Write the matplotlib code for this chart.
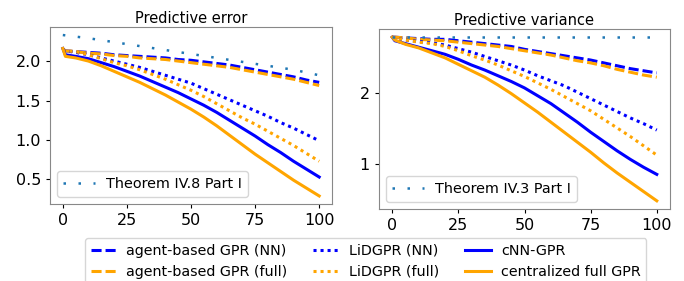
import numpy as np
import matplotlib
matplotlib.use("Agg")
import matplotlib.pyplot as plt

x = [0, 1, 5, 10, 15, 20, 25, 30, 35, 40, 45, 50, 55, 60, 65, 70, 75, 80, 85, 90, 95, 100]
x_thm = [0, 10, 20, 30, 40, 50, 60, 70, 80, 90, 100]

# predictive error
err_agent_nn = [2.15, 2.13, 2.12, 2.11, 2.10, 2.08, 2.07, 2.06, 2.05, 2.04, 2.02,
                2.01, 1.99, 1.97, 1.95, 1.92, 1.89, 1.86, 1.83, 1.80, 1.76, 1.73]
err_agent_full = [2.15, 2.13, 2.12, 2.10, 2.09, 2.07, 2.06, 2.04, 2.03, 2.02, 2.00,
                  1.98, 1.96, 1.94, 1.92, 1.89, 1.86, 1.83, 1.80, 1.77, 1.73, 1.69]
err_lid_nn = [2.15, 2.13, 2.11, 2.08, 2.04, 2.00, 1.96, 1.92, 1.87, 1.82, 1.77,
              1.72, 1.65, 1.58, 1.51, 1.44, 1.37, 1.30, 1.22, 1.15, 1.07, 0.99]
err_lid_full = [2.15, 2.13, 2.12, 2.08, 2.03, 1.98, 1.94, 1.89, 1.83, 1.77, 1.70,
                1.63, 1.55, 1.46, 1.37, 1.28, 1.20, 1.11, 1.02, 0.93, 0.83, 0.73]
err_cnn = [2.16, 2.08, 2.06, 2.03, 1.98, 1.93, 1.87, 1.81, 1.74, 1.67, 1.60,
           1.52, 1.44, 1.35, 1.25, 1.15, 1.05, 0.94, 0.84, 0.73, 0.63, 0.53]
err_central = [2.16, 2.06, 2.04, 2.00, 1.94, 1.87, 1.80, 1.73, 1.65, 1.57, 1.48,
               1.39, 1.29, 1.18, 1.06, 0.94, 0.82, 0.71, 0.60, 0.49, 0.39, 0.29]
err_thm = [2.33, 2.29, 2.24, 2.19, 2.14, 2.09, 2.04, 1.99, 1.94, 1.89, 1.82]

# predictive variance
var_agent_nn = [2.78, 2.78, 2.77, 2.76, 2.75, 2.75, 2.73, 2.71, 2.69, 2.67, 2.65,
                2.61, 2.58, 2.55, 2.52, 2.49, 2.46, 2.42, 2.38, 2.34, 2.31, 2.28]
var_agent_full = [2.78, 2.78, 2.77, 2.75, 2.74, 2.73, 2.71, 2.69, 2.67, 2.65, 2.62,
                  2.59, 2.56, 2.53, 2.49, 2.45, 2.42, 2.38, 2.33, 2.29, 2.25, 2.22]
var_lid_nn = [2.78, 2.77, 2.74, 2.72, 2.70, 2.67, 2.62, 2.57, 2.51, 2.45, 2.39,
              2.32, 2.24, 2.17, 2.10, 2.01, 1.92, 1.83, 1.74, 1.65, 1.57, 1.48]
var_lid_full = [2.78, 2.77, 2.74, 2.71, 2.69, 2.65, 2.59, 2.52, 2.46, 2.39, 2.31,
                2.23, 2.14, 2.05, 1.95, 1.85, 1.75, 1.63, 1.51, 1.39, 1.26, 1.13]
var_cnn = [2.78, 2.73, 2.69, 2.64, 2.59, 2.54, 2.47, 2.39, 2.32, 2.24, 2.16,
           2.07, 1.96, 1.85, 1.72, 1.59, 1.45, 1.32, 1.19, 1.07, 0.96, 0.86]
var_central = [2.78, 2.74, 2.68, 2.63, 2.56, 2.49, 2.40, 2.31, 2.22, 2.11, 1.99,
               1.86, 1.73, 1.59, 1.45, 1.31, 1.17, 1.02, 0.88, 0.75, 0.62, 0.49]
var_thm = [2.78, 2.78, 2.78, 2.78, 2.78, 2.78, 2.78, 2.78, 2.78, 2.78, 2.78]

labels = ["agent-based GPR (NN)", "agent-based GPR (full)", "LiDGPR (NN)",
          "LiDGPR (full)", "cNN-GPR", "centralized full GPR"]

fig = plt.figure(figsize=(6.84, 2.81), dpi=100)
ax1 = fig.add_axes([50/684, 1-204/281, 282/684, 177/281])
ax2 = fig.add_axes([379/684, 1-209/281, 291/684, 180/281])

dash = (0, (3.3, 1.3))
dot = (0, (1, 1.3))
thm = (0, (1, 5))

def draw(ax, series, thm_vals, thm_label, title):
    handles = []
    styles = [("blue", dash), ("orange", dash), ("blue", dot),
              ("orange", dot), ("blue", "-"), ("orange", "-")]
    for (c, ls), ys, lab in zip(styles, series, labels):
        h, = ax.plot(x, ys, color=c, linestyle=ls, lw=2.2, label=lab)
        handles.append(h)
    t, = ax.plot(x_thm, thm_vals, color="#1f77b4", linestyle=thm, lw=1.8)
    ax.legend([t], [thm_label], loc="lower left", fontsize=10.4, handlelength=2.2)
    ax.set_title(title, fontsize=10.5, pad=3)
    ax.tick_params(labelsize=11.5, length=3)
    ax.set_xticks([0, 25, 50, 75, 100])
    for s in ax.spines.values():
        s.set_color("#888888")
    return handles

h = draw(ax1, [err_agent_nn, err_agent_full, err_lid_nn, err_lid_full, err_cnn, err_central],
         err_thm, "Theorem IV.8 Part I", "Predictive error")
ax1.set_yticks([0.5, 1.0, 1.5, 2.0])
draw(ax2, [var_agent_nn, var_agent_full, var_lid_nn, var_lid_full, var_cnn, var_central],
     var_thm, "Theorem IV.3 Part I", "Predictive variance")
ax2.set_yticks([1, 2])

fig.legend(h, labels, loc="upper left", bbox_to_anchor=(85/684, 1-238/281), ncol=3,
           fontsize=10.3, handlelength=1.8, handletextpad=0.7, columnspacing=1.8,
           borderaxespad=0)

fig.savefig("out.png", dpi=100)
